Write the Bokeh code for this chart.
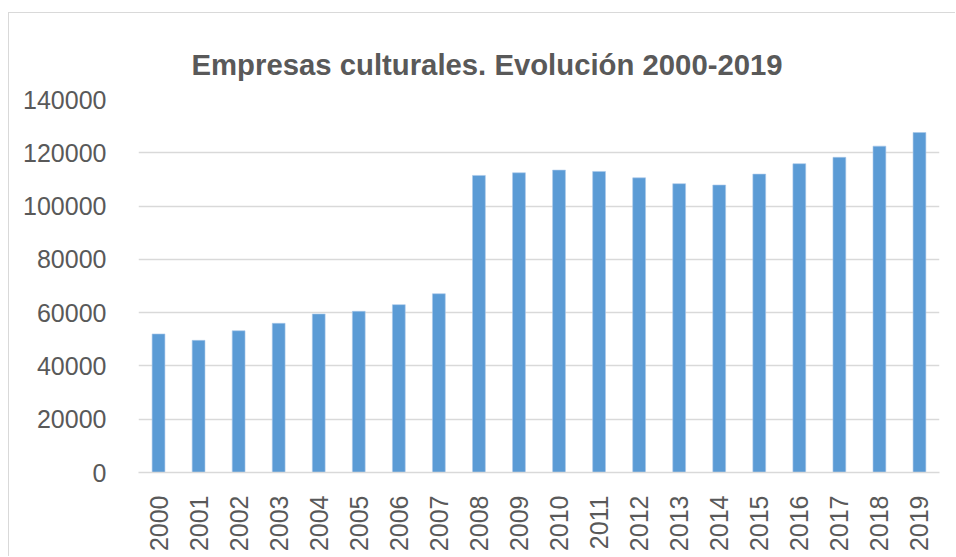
import math
from bokeh.plotting import figure
from bokeh.models import SingleIntervalTicker, BasicTickFormatter, Range1d
from bokeh.embed import file_html
from bokeh.resources import INLINE

years = [str(y) for y in range(2000, 2020)]
empresas = [52000, 49600, 53200, 56000, 59500, 60500, 63000, 67100,
            111500, 112500, 113500, 113000, 110600, 108400, 107900,
            112000, 115900, 118300, 122500, 127600]
title_text = "Empresas culturales. Evolución 2000-2019"

FONT = "Liberation Sans"
GREY = "#595959"

p = figure(x_range=years, y_range=Range1d(0, 140000),
           width=947, height=544, output_backend="svg", toolbar_location=None,
           title=title_text,
           min_border_left=129, min_border_right=17, min_border_top=86, min_border_bottom=85)
p.styles = {"border-left": "1px solid #D9D9D9", "border-top": "1px solid #D9D9D9",
            "margin-left": "8px", "margin-top": "12px"}

p.vbar(x=years, top=empresas, width=0.32, fill_color="#5B9BD5", line_color="#A9C8EA", line_width=0.6)

p.title.text_font = FONT
p.title.text_font_size = "29.3px"
p.title.text_font_style = "bold"
p.title.text_color = GREY
p.title.align = "left"
p.title.offset = 53
p.title.standoff = 38

p.outline_line_color = None
p.xgrid.grid_line_color = None
p.ygrid.grid_line_color = "#D9D9D9"
p.ygrid.grid_line_width = 1.5

p.yaxis.ticker = SingleIntervalTicker(interval=20000)
p.yaxis.formatter = BasicTickFormatter(use_scientific=False)
p.yaxis.axis_line_color = None
p.yaxis.major_tick_line_color = None
p.yaxis.minor_tick_line_color = None
p.yaxis.major_label_standoff = 26
p.yaxis.major_label_text_font = FONT
p.yaxis.major_label_text_font_size = "25px"
p.yaxis.major_label_text_color = GREY

p.xaxis.axis_line_color = "#D9D9D9"
p.xaxis.axis_line_width = 1.5
p.xaxis.major_tick_line_color = None
p.xaxis.minor_tick_line_color = None
p.xaxis.major_label_orientation = math.pi / 2
p.xaxis.major_label_standoff = 17
p.xaxis.major_label_text_font = FONT
p.xaxis.major_label_text_font_size = "25px"
p.xaxis.major_label_text_color = GREY

open("out.html", "w").write(file_html(p, INLINE))
